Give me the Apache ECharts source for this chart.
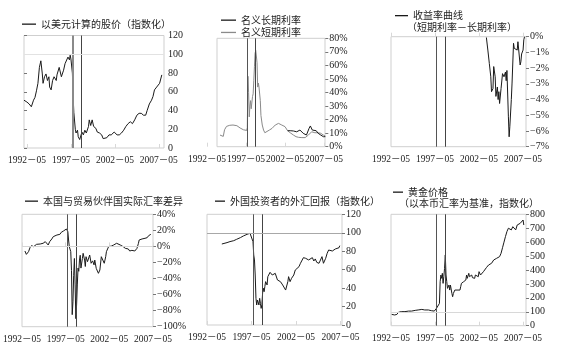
<!DOCTYPE html>
<html><head><meta charset="utf-8">
<script src="https://cdn.jsdelivr.net/npm/echarts@6/dist/echarts.min.js"></script>
<style>html,body{margin:0;padding:0;background:#fff}#c{width:566px;height:349px}</style>
</head><body><div id="c"></div>
<script>
// Horizontal scale: months counted from 1992-01.
const tickMonths = ['1992-05', '1997-05', '2002-05', '2007-05'];
const crisisMonths = ['1997-07', '1998-07'];

// Stock price in USD (index)
const stockMonths = ['1992-01','1992-05','1992-08','1992-11','1993-02','1993-04','1993-06','1993-08','1993-10','1993-12','1994-02','1994-03','1994-05','1994-07','1994-09','1994-11','1994-12','1995-02','1995-04','1995-06','1995-09','1995-10','1996-01','1996-02','1996-04','1996-07','1996-09','1996-11','1997-01','1997-03','1997-04','1997-05','1997-06','1997-07','1997-08','1997-09','1997-11','1997-12','1998-02','1998-03','1998-05','1998-07','1998-08','1998-10','1998-12','1999-02','1999-05','1999-06','1999-08','1999-10','1999-12','2000-03','2000-05','2000-08','2000-11','2001-01','2001-03','2001-06','2001-09','2001-12','2002-04','2002-06','2002-08','2002-11','2003-02','2003-05','2003-08','2003-11','2004-02','2004-05','2004-08','2004-11','2005-02','2005-05','2005-08','2005-11','2006-01','2006-04','2006-07','2006-09','2006-11','2007-02','2007-04','2007-06','2007-09'];
const stockValues = [51,49,47,44,51,54,61,69,86,93,79,69,76,79,72,76,65,62,72,76,72,78,86,88,76,83,90,92,97,94,99,95,97,80,55,38,20,16,19,12,9,7,17,14,19,16,23,30,24,30,23,21,17,16,14,10,12,11,14,14,17,19,14,14,16,19,23,26,28,26,30,35,37,37,35,35,40,47,51,55,62,65,63,69,78];

// Nominal short-term rate (%)
const shortMonths = ['1994-01','1994-03','1994-06','1994-08','1994-11','1995-04','1995-09','1996-03','1996-08','1997-01','1997-04','1997-06','1997-07','1997-08','1997-09','1997-10','1997-11','1997-12','1998-01','1998-03','1998-04','1998-05','1998-06','1998-07','1998-08','1998-09','1998-10','1998-11','1998-12','1999-01','1999-03','1999-04','1999-06','1999-08','1999-10','2000-01','2000-05','2000-09','2001-02','2001-07','2001-12','2002-05','2002-09','2003-01','2003-06','2003-10','2004-02','2004-07','2004-12','2005-05','2005-10','2006-01','2006-03','2006-08','2006-12','2007-04','2007-07'];
const shortValues = [8.6,7.4,7.6,12.5,15.0,15.8,16.0,15.5,13.8,12.5,11.6,12.0,14,52,40,22,30,34,28,37,39,49,59,69,71,70,62,44,47,44,34,23,16,12.3,10.3,11,12.3,13.5,16,17.2,16,14.8,11.8,10.3,8.6,7.4,6.9,6.7,6.7,8.6,11.0,12.3,10.3,10.3,9.9,8.6,7.9];

// Nominal long-term rate (%)
const longMonths = ['2002-09','2003-01','2003-06','2003-11','2004-04','2004-09','2005-02','2005-06','2005-08','2005-11','2006-02','2006-05','2006-08','2006-12','2007-04','2007-07'];
const longValues = [11.8,11.8,11.6,11.0,12.3,9.9,8.6,13.5,15.3,12.3,11.6,11.8,9.9,8.6,7.4,7.4];

// Yield curve: short rate minus long rate (%)
const curveMonths = ['2003-03','2003-05','2003-07','2003-09','2003-10','2003-12','2004-01','2004-03','2004-04','2004-06','2004-07','2004-08','2004-09','2004-11','2005-01','2005-03','2005-05','2005-06','2005-07','2005-09','2005-10','2005-11','2006-01','2006-02','2006-04','2006-05','2006-07','2006-09','2006-10','2006-11','2007-01','2007-02','2007-03','2007-05','2007-06','2007-07'];
const curveValues = [-0.05,-0.85,-1.7,-2.55,-3.5,-3.3,-1.9,-2.55,-3.8,-3.2,-4.0,-3.5,-4.25,-3.3,-2.35,-2.55,-2.25,-2.8,-2.15,-5.1,-6.37,-5.7,-4.0,-2.95,-0.42,-0.74,-0.63,-0.85,-0.32,-0.2,-1.8,-1.6,-1.1,-0.85,-0.2,0];

// Real exchange-rate gap vs. trading partners (%)
const rerMonths = ['1992-09','1992-11','1993-02','1993-04','1993-06','1993-09','1993-11','1994-01','1994-03','1994-06','1994-08','1994-10','1995-01','1995-03','1995-05','1995-07','1995-10','1995-12','1996-02','1996-05','1996-07','1996-09','1996-11','1997-02','1997-04','1997-06','1997-08','1997-09','1997-10','1997-12','1998-01','1998-02','1998-03','1998-04','1998-05','1998-06','1998-07','1998-08','1998-09','1998-10','1998-11','1998-12','1999-01','1999-02','1999-04','1999-05','1999-07','1999-08','1999-09','1999-11','2000-01','2000-02','2000-04','2000-06','2000-08','2000-09','2000-11','2000-12','2001-02','2001-03','2001-04','2001-06','2001-08','2001-10','2001-11','2001-12','2002-01','2002-04','2002-06','2002-08','2002-11','2003-01','2003-03','2003-05','2003-08','2003-10','2003-12','2004-03','2004-05','2004-07','2004-09','2004-12','2005-02','2005-04','2005-06','2005-07','2005-09','2005-10','2005-12','2006-02','2006-04','2006-06','2006-07','2006-09','2006-11','2007-01','2007-02'];
const rerValues = [-5.7,-9.9,-6.5,-1.5,1,-0.3,1.8,2.6,3.9,3,5.1,3.9,5.9,3.9,1.8,5.9,9.3,12.2,14.2,14.2,16.3,15,17.6,19.2,20.5,21.7,18.4,8,-0.3,-6.5,-30,-85,-69,-36,-15,-48,-90,-73,-48,-27,-31,-17,-11,-27,-15,-8.6,-17,-25,-12.8,-19,-21,-10.7,-21,-18,-23,-17,-27.3,-25,-33.5,-35.6,-29.4,-12.8,-14.8,-21,-17,-12.8,-6.5,-0.3,1,0.5,1.8,1,3.9,3,1.8,1,-0.3,-2.4,-4.5,-3.2,-5.7,-4.9,-6.5,-5.7,-7.4,-2.4,3.9,8,10.1,9.3,10.9,10.1,12.2,10.9,13.4,13,15];

// Foreign investors' currency return (index)
const fxMonths = ['1994-01','1994-03','1994-08','1994-12','1995-05','1995-09','1996-02','1996-06','1996-11','1997-01','1997-03','1997-05','1997-07','1997-08','1997-09','1997-10','1997-11','1997-12','1998-01','1998-02','1998-03','1998-04','1998-05','1998-06','1998-07','1998-08','1998-09','1998-10','1998-11','1998-12','1999-02','1999-03','1999-04','1999-06','1999-08','1999-09','1999-11','2000-01','2000-02','2000-04','2000-06','2000-08','2000-10','2000-11','2001-01','2001-03','2001-05','2001-06','2001-07','2001-09','2001-11','2001-12','2002-02','2002-04','2002-06','2002-09','2002-11','2003-01','2003-03','2003-06','2003-08','2003-10','2003-12','2004-03','2004-05','2004-07','2004-09','2004-12','2005-02','2005-04','2005-06','2005-09','2005-11','2006-01','2006-03','2006-06','2006-08','2006-10','2006-12','2007-03','2007-04'];
const fxValues = [87.8,88.5,89.3,90.4,91.4,92.9,94.7,96.5,98.3,99.4,99.4,98.3,90.4,75.9,70.5,54.2,28.9,21.7,27.1,25.3,21.7,28.9,23.5,18,22,35,39.8,36.1,41.6,47,43.4,52.4,54.2,57.1,56,54.2,52.4,56,54.2,48.8,50.6,47,48.8,43.4,45.2,37.9,39.8,47,52.4,47,50.6,48.8,54.2,59.6,61.4,63.2,66.9,68.7,73,72.3,74.1,70.5,72.3,73,69.4,71.6,67.9,66.9,68.7,74.1,66.9,72.3,77.7,81.3,79.5,80.2,81.3,82.4,82.4,83.8,86];

// Gold price in local currency (index)
const goldMonths = ['1992-06','1992-08','1992-10','1993-01','1993-03','1993-05','1993-07','1993-12','1994-05','1994-09','1995-02','1995-06','1995-11','1996-03','1996-08','1996-12','1997-04','1997-06','1997-07','1997-09','1997-11','1997-12','1998-01','1998-02','1998-03','1998-04','1998-05','1998-06','1998-07','1998-08','1998-09','1998-10','1998-12','1999-01','1999-02','1999-04','1999-05','1999-06','1999-08','1999-09','1999-11','1999-12','2000-01','2000-03','2000-04','2000-05','2000-07','2000-08','2000-09','2000-11','2000-12','2001-01','2001-03','2001-04','2001-06','2001-07','2001-08','2001-10','2001-11','2001-12','2002-02','2002-04','2002-05','2002-07','2002-09','2002-11','2003-01','2003-03','2003-04','2003-06','2003-08','2003-10','2003-12','2004-01','2004-03','2004-05','2004-07','2004-09','2004-11','2005-01','2005-03','2005-05','2005-07','2005-09','2005-11','2006-01','2006-03','2006-05','2006-07','2006-09','2006-11','2007-01','2007-03','2007-05','2007-06'];
const goldValues = [81,77,77,81,96,89,101,101,105,105,110,113,117,113,113,108,105,113,125,137,160,316,364,340,376,304,352,412,508,364,316,268,292,256,292,232,208,232,256,244,256,244,268,256,280,304,292,316,304,328,364,340,376,352,340,364,345,352,340,364,376,352,388,364,376,388,400,417,407,436,424,448,436,472,460,484,472,496,520,560,600,640,676,700,704,688,711,700,688,723,711,735,747,759,723];

function monthIndex(s) { const p = s.split('-'); return (+p[0] - 1992) * 12 + (+p[1] - 1); }
function pairs(ms, vs) { return ms.map((m, i) => [monthIndex(m), vs[i]]); }
function monthLabel(v) { const y = 1992 + Math.floor(v / 12), m = v % 12 + 1; return y + '－' + (m < 10 ? '0' : '') + m; }

const tickIdx = tickMonths.map(monthIndex);
const crisisIdx = crisisMonths.map(monthIndex);
const NUM_FONT = "'Liberation Serif', 'Noto Sans CJK SC', serif";
const CJK_FONT = "'Noto Sans CJK SC', sans-serif";
const TXT = '#222';

// Panel frames (pixels) and horizontal month range
const frames = [
  { left: 24,  top: 35.5,  width: 140,   height: 112.5, xmin: 0, xmax: 191, box: true },
  { left: 207, top: 38.3,  width: 118.3, height: 108.4, xmin: 4, xmax: 186, box: false },
  { left: 391, top: 36.7,  width: 135,   height: 110,   xmin: 4, xmax: 188, box: true },
  { left: 22,  top: 214.3, width: 131,   height: 112.4, xmin: 4, xmax: 184, box: true },
  { left: 207, top: 214.3, width: 135,   height: 110.7, xmin: 4, xmax: 186, box: true },
  { left: 391, top: 214.3, width: 135,   height: 111.4, xmin: 4, xmax: 188, box: true }
];
const yScales = [
  { min: 0, max: 120, interval: 20, fmt: v => String(v) },
  { min: 0, max: 80, interval: 10, fmt: v => v + '%' },
  { min: -7, max: 0, interval: 1, fmt: v => v === 0 ? '0%' : '−' + Math.abs(v) + '%' },
  { min: -100, max: 40, interval: 20, fmt: v => v < 0 ? '−' + Math.abs(v) + '%' : v + '%' },
  { min: 0, max: 120, interval: 20, fmt: v => String(v) },
  { min: 0, max: 800, interval: 100, fmt: v => String(v) }
];

const grid = frames.map(f => ({
  left: f.left, top: f.top, width: f.width, height: f.height,
  show: f.box, borderColor: '#cfcfcf', borderWidth: 1, containLabel: false
}));
const xAxis = frames.map((f, i) => ({
  type: 'value', gridIndex: i, min: f.xmin, max: f.xmax,
  axisLine: { show: false }, splitLine: { show: false },
  axisTick: { show: true, inside: true, length: 4, customValues: tickIdx, lineStyle: { color: '#d8d8d8' } },
  axisLabel: { customValues: tickIdx, formatter: monthLabel, fontFamily: NUM_FONT, fontSize: 9.5, color: TXT, margin: 8 }
}));
const yAxis = yScales.map((s, i) => ({
  type: 'value', gridIndex: i, position: 'right', min: s.min, max: s.max, interval: s.interval,
  axisLine: { show: false }, splitLine: { show: false },
  axisTick: { show: true, length: 3, lineStyle: { color: '#777' } },
  axisLabel: { formatter: s.fmt, fontFamily: NUM_FONT, fontSize: 10, color: TXT, margin: 4 }
}));

function vLines(firstWide) {
  return {
    silent: true, symbol: 'none', label: { show: false }, animation: false,
    data: [
      { xAxis: crisisIdx[0], lineStyle: { color: firstWide ? '#8a8a8a' : '#555', width: firstWide ? 2 : 1, type: 'solid' } },
      { xAxis: crisisIdx[1], lineStyle: { color: '#444', width: 1, type: 'solid' } }
    ]
  };
}
function hLine(v, color) {
  return { yAxis: v, lineStyle: { color: color, width: 1, type: 'solid' } };
}
function mark(firstWide, hl) {
  const m = vLines(firstWide);
  if (hl) m.data.push(hl);
  return m;
}
function lineSeries(name, i, data, color, markLine, z) {
  return {
    name, type: 'line', xAxisIndex: i, yAxisIndex: i, data, symbol: 'none', showSymbol: false,
    lineStyle: { color, width: 1 }, itemStyle: { color }, animation: false, z: z || 2,
    markLine
  };
}

const series = [
  lineSeries('以美元计算的股价（指数化）', 0, pairs(stockMonths, stockValues), '#1a1a1a', mark(true, hLine(100, '#e2e2e2'))),
  lineSeries('名义长期利率', 1, pairs(longMonths, longValues), '#1a1a1a', undefined, 3),
  lineSeries('名义短期利率', 1, pairs(shortMonths, shortValues), '#8a8a8a', mark(false)),
  lineSeries('收益率曲线', 2, pairs(curveMonths, curveValues), '#1a1a1a', mark(false)),
  lineSeries('本国与贸易伙伴国实际汇率差异', 3, pairs(rerMonths, rerValues), '#1a1a1a', mark(false, hLine(0, '#d5d5d5'))),
  lineSeries('外国投资者的外汇回报（指数化）', 4, pairs(fxMonths, fxValues), '#1a1a1a', mark(false, hLine(100, '#a8a8a8'))),
  lineSeries('黄金价格', 5, pairs(goldMonths, goldValues), '#1a1a1a', mark(false, hLine(100, '#d8d8d8')))
];

function legendAt(names, left, top, iconW, vertical) {
  return {
    data: names, left, top, orient: vertical ? 'vertical' : 'horizontal', padding: 0, itemGap: 0,
    icon: 'rect', itemWidth: iconW, itemHeight: 1.3, selectedMode: false,
    textStyle: { fontFamily: CJK_FONT, fontSize: 10, color: TXT, lineHeight: 12.3 }
  };
}
const legend = [
  legendAt(['以美元计算的股价（指数化）'], 22, 18, 14),
  legendAt(['名义长期利率', '名义短期利率'], 221, 14, 15, true),
  legendAt(['收益率曲线'], 395, 9.5, 13),
  legendAt(['本国与贸易伙伴国实际汇率差异'], 25, 195, 13),
  legendAt(['外国投资者的外汇回报（指数化）'], 215, 195, 10),
  legendAt(['黄金价格'], 393, 186, 10)
];

const graphic = [
  // frame of the interest-rate panel
  { type: 'rect', silent: true, shape: { x: 217, y: 38.3, width: 108, height: 108.4 },
    style: { fill: 'none', stroke: '#cfcfcf', lineWidth: 1 } },
  { type: 'text', left: 407, top: 22, silent: true,
    style: { text: '（短期利率－长期利率）', font: "10px 'Noto Sans CJK SC'", fill: TXT } },
  { type: 'text', left: 399, top: 198, silent: true,
    style: { text: '（以本币汇率为基准，指数化）', font: "10px 'Noto Sans CJK SC'", fill: TXT } }
];

const chart = echarts.init(document.getElementById('c'), null, { renderer: 'canvas' });
chart.setOption({ backgroundColor: '#fff', animation: false, grid, xAxis, yAxis, series, legend, graphic });
</script>
</body></html>
